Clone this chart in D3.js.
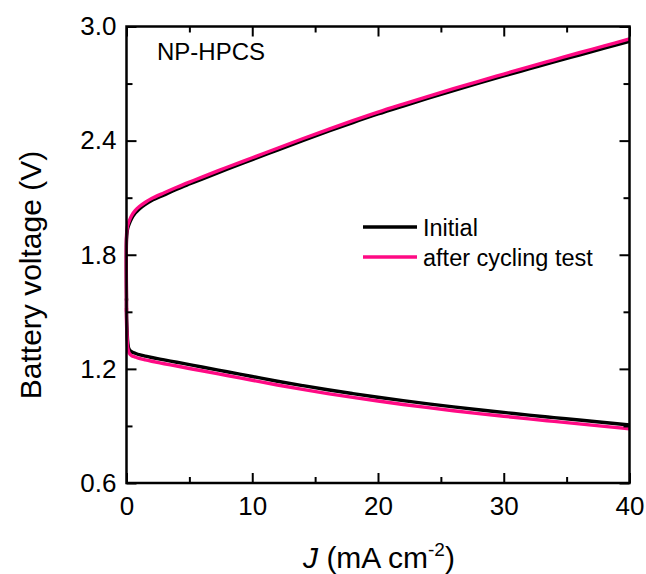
<!DOCTYPE html>
<html>
<head>
<meta charset="utf-8">
<script src="https://cdn.jsdelivr.net/npm/d3@7"></script>
<style>
  html, body { margin: 0; padding: 0; background: #fff; }
  svg { display: block; font-family: "Liberation Sans", Arial, sans-serif; }
</style>
</head>
<body>
<svg id="chart" width="646" height="574"></svg>
<script>
// ---- data ----
const currentDensity = [0, 0, 0.05, 0.1, 0.2, 0.4, 0.7, 1, 1.5, 2, 3, 4, 5, 6, 8, 10, 12, 14, 16, 18, 20, 22, 24, 26, 28, 30, 32, 34, 36, 38, 40];
const chargeInitial = [1.56, 1.88, 1.92, 1.94, 1.96, 1.99, 2.02, 2.04, 2.065, 2.085, 2.115, 2.145, 2.172, 2.198, 2.25, 2.30, 2.35, 2.40, 2.448, 2.495, 2.54, 2.582, 2.623, 2.663, 2.702, 2.74, 2.777, 2.814, 2.85, 2.886, 2.922];
const chargeAfter = [1.50, 1.90, 1.94, 1.955, 1.975, 2.005, 2.033, 2.052, 2.076, 2.096, 2.126, 2.155, 2.182, 2.208, 2.26, 2.31, 2.36, 2.41, 2.458, 2.505, 2.55, 2.592, 2.633, 2.673, 2.712, 2.75, 2.788, 2.825, 2.862, 2.898, 2.935];
const dischargeInitial = [1.57, 1.50, 1.40, 1.34, 1.305, 1.29, 1.282, 1.275, 1.267, 1.26, 1.247, 1.235, 1.222, 1.21, 1.185, 1.16, 1.135, 1.112, 1.09, 1.07, 1.051, 1.033, 1.016, 1.0, 0.985, 0.971, 0.957, 0.944, 0.931, 0.918, 0.905];
const dischargeAfter = [1.52, 1.45, 1.36, 1.31, 1.285, 1.27, 1.262, 1.255, 1.247, 1.24, 1.227, 1.215, 1.202, 1.19, 1.165, 1.14, 1.115, 1.092, 1.07, 1.05, 1.031, 1.013, 0.996, 0.98, 0.965, 0.951, 0.937, 0.924, 0.911, 0.898, 0.885];
const xTicks = [0, 10, 20, 30, 40];
const xMinorTicks = [5, 15, 25, 35];
const yTicks = [0.6, 1.2, 1.8, 2.4, 3.0];
const yMinorTicks = [0.9, 1.5, 2.1, 2.7];
const seriesNames = ["Initial", "after cycling test"];
const seriesColors = ["#000000", "#ff0a84"];

// ---- layout ----
const svg = d3.select("#chart");
const L = 126.5, R = 629.5, T = 26.5, B = 483;
const x = d3.scaleLinear().domain([0, 40]).range([L, R]);
const y = d3.scaleLinear().domain([0.6, 3.0]).range([B, T]);

const line = d3.line()
  .x((d, i) => x(currentDensity[i]))
  .y(d => y(d))
  .curve(d3.curveCatmullRom.alpha(0.5));

const curves = [
  { v: chargeInitial, c: 0 }, { v: dischargeInitial, c: 0 },
  { v: chargeAfter, c: 1 }, { v: dischargeAfter, c: 1 }
];
svg.append("g").selectAll("path").data(curves).join("path")
  .attr("d", d => line(d.v))
  .attr("fill", "none")
  .attr("stroke", d => seriesColors[d.c])
  .attr("stroke-width", 3.4)
  .attr("stroke-linejoin", "round");

// ---- axes ----
const fmt = d3.format(".1f");
function styleAxis(g) {
  g.select(".domain").remove();
  g.selectAll(".tick line").attr("stroke", "#000").attr("stroke-width", 2);
}
const major = 10, minor = 6;
// bottom
svg.append("g").attr("transform", `translate(0,${B})`)
  .call(d3.axisBottom(x).tickValues(xTicks).tickSize(-major).tickPadding(14).tickFormat(d3.format("d")))
  .call(styleAxis)
  .call(g => g.selectAll("text").attr("font-size", 26).attr("fill", "#000").attr("dy", "0.71em"));
svg.append("g").attr("transform", `translate(0,${B})`)
  .call(d3.axisBottom(x).tickValues(xMinorTicks).tickSize(-minor).tickFormat(""))
  .call(styleAxis);
// top
svg.append("g").attr("transform", `translate(0,${T})`)
  .call(d3.axisTop(x).tickValues(xTicks).tickSize(-major).tickFormat(""))
  .call(styleAxis);
svg.append("g").attr("transform", `translate(0,${T})`)
  .call(d3.axisTop(x).tickValues(xMinorTicks).tickSize(-minor).tickFormat(""))
  .call(styleAxis);
// left
svg.append("g").attr("transform", `translate(${L},0)`)
  .call(d3.axisLeft(y).tickValues(yTicks).tickSize(-major).tickPadding(10).tickFormat(fmt))
  .call(styleAxis)
  .call(g => g.selectAll("text").attr("font-size", 26).attr("fill", "#000"));
svg.append("g").attr("transform", `translate(${L},0)`)
  .call(d3.axisLeft(y).tickValues(yMinorTicks).tickSize(-minor).tickFormat(""))
  .call(styleAxis);
// right
svg.append("g").attr("transform", `translate(${R},0)`)
  .call(d3.axisRight(y).tickValues(yTicks).tickSize(-major).tickFormat(""))
  .call(styleAxis);
svg.append("g").attr("transform", `translate(${R},0)`)
  .call(d3.axisRight(y).tickValues(yMinorTicks).tickSize(-minor).tickFormat(""))
  .call(styleAxis);
// frame
svg.append("rect").attr("x", L).attr("y", T).attr("width", R - L).attr("height", B - T)
  .attr("fill", "none").attr("stroke", "#000").attr("stroke-width", 2.5);

// ---- titles ----
svg.append("text").attr("transform", "translate(41,275) rotate(-90)")
  .attr("text-anchor", "middle").attr("font-size", 30).text("Battery voltage (V)");

const xt = svg.append("text").attr("x", 379).attr("y", 568)
  .attr("text-anchor", "middle").attr("font-size", 30);
xt.append("tspan").attr("font-style", "italic").text("J");
xt.append("tspan").text(" (mA cm");
xt.append("tspan").attr("font-size", 19).attr("dy", -12).text("-2");
xt.append("tspan").attr("dy", 12).text(")");

svg.append("text").attr("x", 157).attr("y", 60).attr("font-size", 24).text("NP-HPCS");

// ---- legend ----
const lg = svg.append("g").selectAll("g").data(seriesNames).join("g")
  .attr("transform", (d, i) => `translate(363,${227 + i * 30})`);
lg.append("line").attr("x1", 0).attr("x2", 54).attr("y1", 0).attr("y2", 0)
  .attr("stroke", (d, i) => seriesColors[i]).attr("stroke-width", 3.4);
lg.append("text").attr("x", 60).attr("y", 9).attr("font-size", 23.5).text(d => d);
</script>
</body>
</html>
